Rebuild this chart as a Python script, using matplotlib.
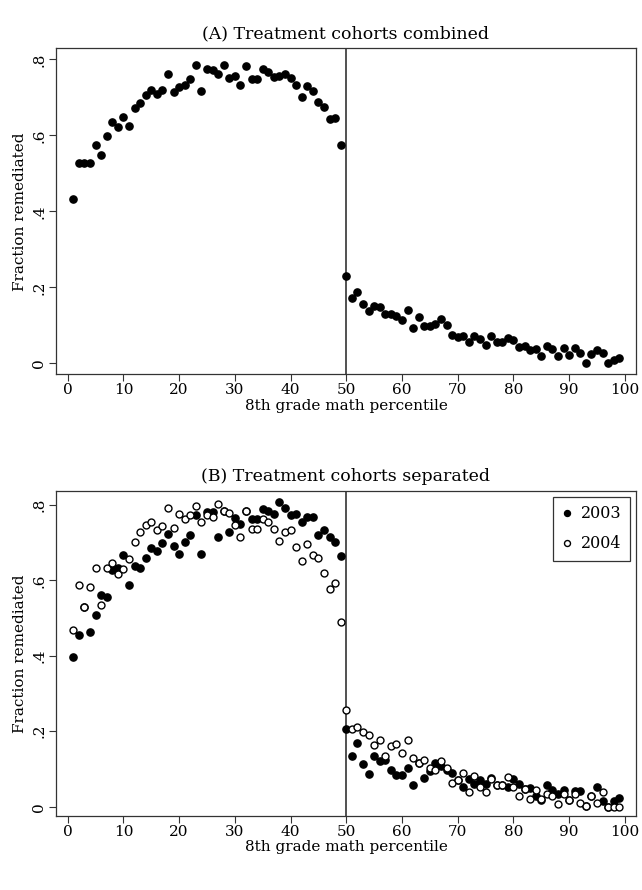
import numpy as np
import matplotlib
matplotlib.use('Agg')
import matplotlib.pyplot as plt
from matplotlib.lines import Line2D

plt.rcParams['font.family'] = ['DejaVu Serif']

# 8th grade math percentile
pct = np.arange(1, 100)

# (A) both cohorts pooled
combined = [
    0.432, 0.528, 0.528, 0.528, 0.575, 0.547, 0.597, 0.636, 0.623, 0.647,
    0.624, 0.672, 0.686, 0.705, 0.719, 0.710, 0.719, 0.761, 0.715, 0.727,
    0.733, 0.748, 0.784, 0.717, 0.775, 0.772, 0.762, 0.784, 0.752, 0.755,
    0.732, 0.782, 0.749, 0.749, 0.774, 0.768, 0.753, 0.756, 0.761, 0.751,
    0.732, 0.701, 0.730, 0.717, 0.689, 0.674, 0.643, 0.645, 0.575, 0.231,
    0.172, 0.189, 0.155, 0.139, 0.151, 0.148, 0.130, 0.130, 0.125, 0.114,
    0.140, 0.094, 0.121, 0.098, 0.098, 0.104, 0.116, 0.100, 0.075, 0.070,
    0.072, 0.056, 0.072, 0.063, 0.049, 0.073, 0.056, 0.056, 0.067, 0.061,
    0.043, 0.046, 0.035, 0.037, 0.019, 0.046, 0.037, 0.018, 0.040, 0.022,
    0.039, 0.026, 0.002, 0.024, 0.034, 0.028, 0.002, 0.008, 0.015,
]

# (B) cohort 2003 (filled)
cohort_2003 = [
    0.397, 0.454, 0.530, 0.463, 0.508, 0.562, 0.557, 0.628, 0.632, 0.666,
    0.589, 0.638, 0.634, 0.659, 0.685, 0.678, 0.699, 0.722, 0.691, 0.670,
    0.701, 0.721, 0.774, 0.670, 0.781, 0.781, 0.716, 0.784, 0.728, 0.765,
    0.749, 0.783, 0.763, 0.763, 0.788, 0.784, 0.775, 0.807, 0.793, 0.773,
    0.775, 0.755, 0.768, 0.767, 0.721, 0.734, 0.715, 0.701, 0.664, 0.205,
    0.134, 0.168, 0.112, 0.086, 0.135, 0.122, 0.124, 0.097, 0.085, 0.085,
    0.103, 0.058, 0.117, 0.075, 0.095, 0.115, 0.108, 0.096, 0.090, 0.070,
    0.051, 0.073, 0.059, 0.071, 0.059, 0.076, 0.057, 0.057, 0.052, 0.072,
    0.059, 0.046, 0.050, 0.028, 0.017, 0.057, 0.043, 0.034, 0.044, 0.018,
    0.042, 0.042, 0.001, 0.027, 0.052, 0.015, 0.000, 0.015, 0.022,
]

# (B) cohort 2004 (hollow)
cohort_2004 = [
    0.469, 0.589, 0.530, 0.582, 0.632, 0.535, 0.632, 0.646, 0.616, 0.630,
    0.656, 0.703, 0.729, 0.747, 0.754, 0.734, 0.744, 0.792, 0.739, 0.776,
    0.764, 0.773, 0.796, 0.756, 0.774, 0.767, 0.803, 0.784, 0.780, 0.746,
    0.715, 0.783, 0.736, 0.737, 0.763, 0.754, 0.736, 0.704, 0.728, 0.734,
    0.688, 0.651, 0.696, 0.667, 0.660, 0.619, 0.577, 0.593, 0.489, 0.256,
    0.207, 0.210, 0.197, 0.191, 0.164, 0.176, 0.134, 0.162, 0.166, 0.141,
    0.178, 0.130, 0.116, 0.123, 0.102, 0.096, 0.120, 0.102, 0.064, 0.070,
    0.089, 0.038, 0.081, 0.053, 0.039, 0.072, 0.057, 0.057, 0.078, 0.052,
    0.028, 0.046, 0.020, 0.043, 0.021, 0.033, 0.028, 0.006, 0.034, 0.018,
    0.033, 0.010, 0.001, 0.027, 0.010, 0.038, 0.000, 0.000, 0.000,
]

xticks = [0, 10, 20, 30, 40, 50, 60, 70, 80, 90, 100]
yticks = [0, 0.2, 0.4, 0.6, 0.8]
ytick_labels = ['0', '.2', '.4', '.6', '.8']
cutoff = 50


def style_axes(ax, title, ylim):
    ax.set_xlim(-2.1, 102.0)
    ax.set_ylim(*ylim)
    ax.axvline(cutoff, color='#222222', lw=1.1, zorder=1)
    ax.set_xticks(xticks)
    ax.set_yticks(yticks)
    ax.set_yticklabels(ytick_labels, rotation=90, va='center')
    ax.tick_params(direction='out', length=5, width=0.8, labelsize=11, color='#333333')
    ax.tick_params(axis='y', pad=2)
    ax.tick_params(axis='x', pad=1.5)
    for sp in ax.spines.values():
        sp.set_color('#333333')
        sp.set_linewidth(0.9)
    ax.set_title(title, fontsize=12.5, pad=7)
    ax.set_xlabel('8th grade math percentile', fontsize=11, labelpad=1)
    ax.set_ylabel('Fraction remediated', fontsize=11, labelpad=4)


fig = plt.figure(figsize=(6.42, 8.9), dpi=100)

# panel A
axA = fig.add_axes([0.0872, 0.5794, 0.9034, 0.3663])
axA.plot(pct, combined, 'o', color='black', ms=5.2, mec='black', zorder=3)
style_axes(axA, '(A) Treatment cohorts combined', (-0.029, 0.829))

# panel B
axB = fig.add_axes([0.0872, 0.0835, 0.9034, 0.3648])
axB.plot(pct, cohort_2003, 'o', color='black', ms=5.2, mec='black', zorder=3)
axB.plot(pct, cohort_2004, 'o', mfc='white', mec='black', mew=1.0, ms=5.0, zorder=4)
style_axes(axB, '(B) Treatment cohorts separated', (-0.024, 0.837))

handles = [
    Line2D([], [], ls='none', marker='o', color='black', ms=4.3),
    Line2D([], [], ls='none', marker='o', mfc='white', mec='black', mew=1.0, ms=4.3),
]
leg = axB.legend(handles, ['2003', '2004'], loc='upper right', fontsize=11.5,
                 frameon=True, fancybox=False, edgecolor='black', handlelength=0.6,
                 handletextpad=0.6, borderpad=0.55, labelspacing=0.8,
                 borderaxespad=0.35)
leg.get_frame().set_linewidth(0.9)

fig.savefig('out.png', dpi=100)
